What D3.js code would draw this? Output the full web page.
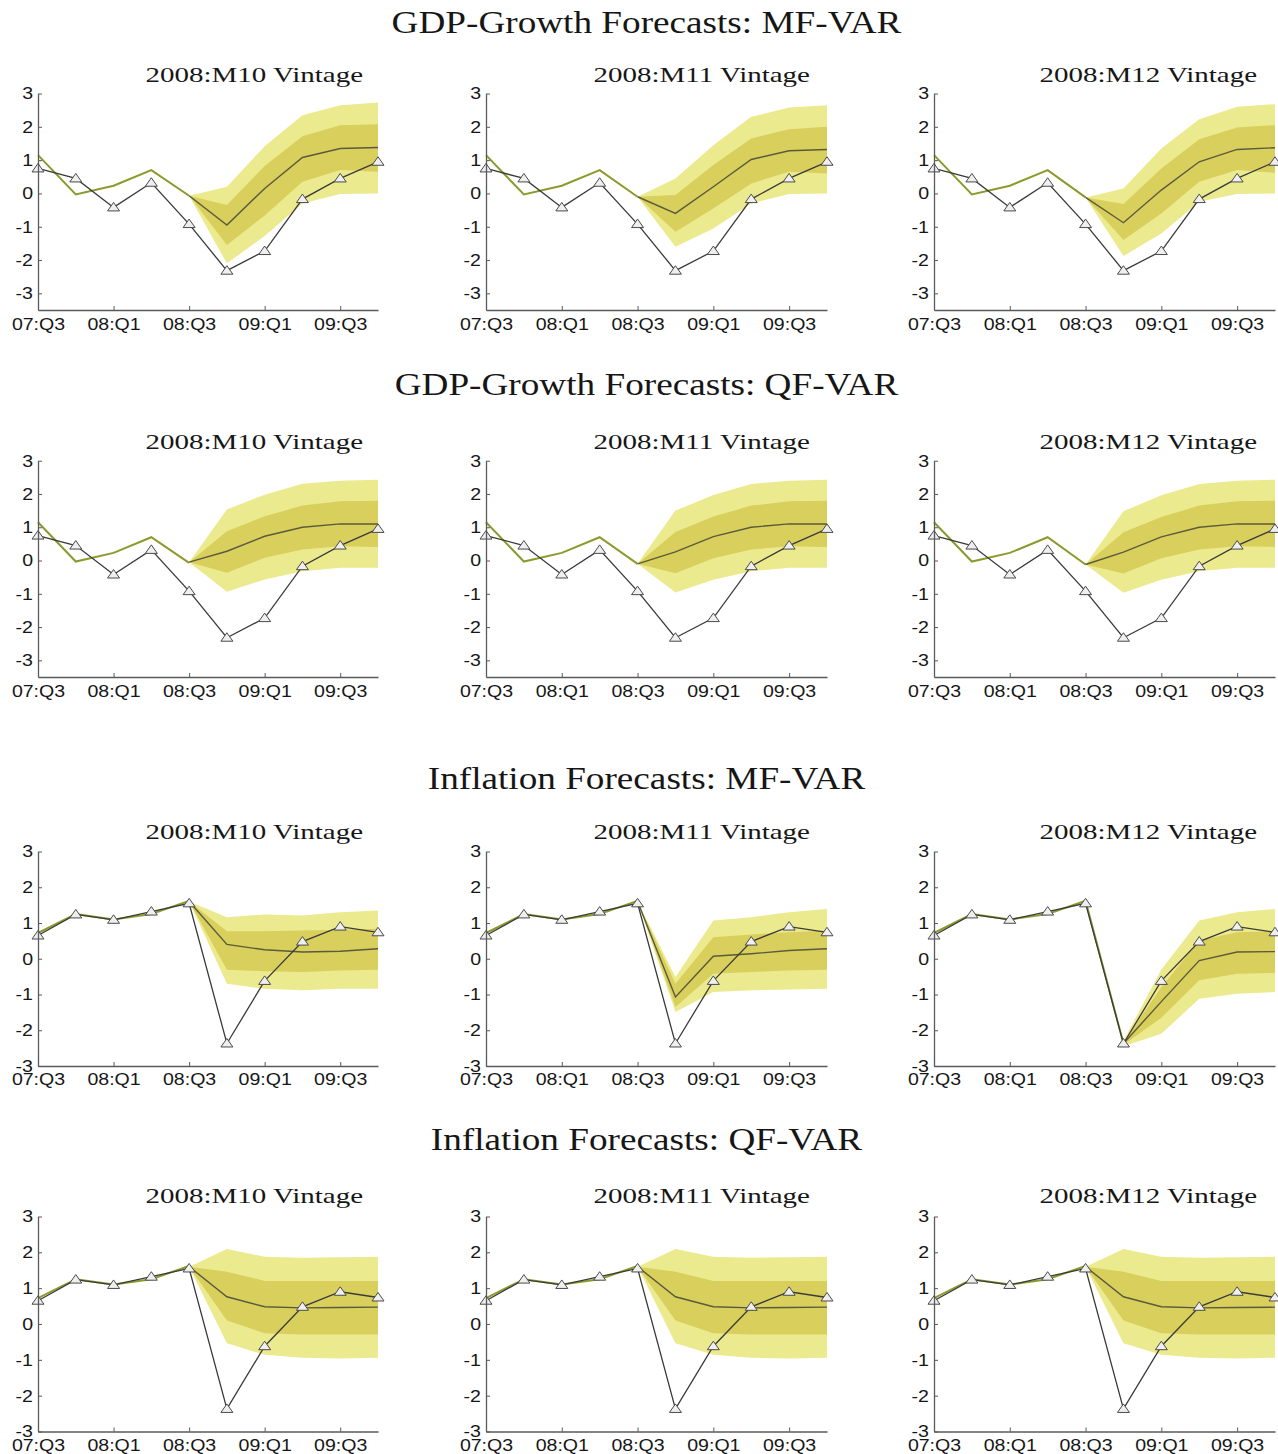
<!DOCTYPE html>
<html>
<head>
<meta charset="utf-8">
<script src="https://cdn.jsdelivr.net/npm/d3@7"></script>
<style>
  body { margin: 0; background: #fff; }
  svg { display: block; }
</style>
</head>
<body>
<svg id="chart" width="1278" height="1454"></svg>
<script>
// ---- Data ---------------------------------------------------------------
const quarters = ["07:Q3","07:Q4","08:Q1","08:Q2","08:Q3","08:Q4","09:Q1","09:Q2","09:Q3","09:Q4"];
const xTickIndex = [0, 2, 4, 6, 8];
const yTickValues = [-3, -2, -1, 0, 1, 2, 3];
const vintages = ["2008:M10 Vintage", "2008:M11 Vintage", "2008:M12 Vintage"];
const sectionTitles = [
  "GDP-Growth Forecasts: MF-VAR",
  "GDP-Growth Forecasts: QF-VAR",
  "Inflation Forecasts: MF-VAR",
  "Inflation Forecasts: QF-VAR"
];

// Realised outcomes (triangles)
const gdpActual  = [0.75, 0.45, -0.42, 0.32, -0.92, -2.32, -1.73, -0.17, 0.45, 0.95];
const inflActual = [0.65, 1.24, 1.09, 1.32, 1.55, -2.37, -0.62, 0.48, 0.90, 0.74];

// Real-time data available at each vintage (olive line)
const gdpRealTimeM10  = [1.15, -0.03, 0.23, 0.70, -0.07];
const gdpRealTimeM11  = [1.15, -0.03, 0.23, 0.70, -0.10];
const gdpRealTimeM12  = [1.15, -0.03, 0.23, 0.70, -0.12];
const inflRealTime    = [0.72, 1.25, 1.10, 1.25, 1.62];
const inflRealTimeM12 = [0.72, 1.25, 1.10, 1.25, 1.62, -2.37];

// Forecast fans, one row per horizon: [lo90, lo68, median, hi68, hi90]
const gdpMfM10 = [
  [-0.07, -0.07, -0.07, -0.07, -0.07],
  [-2.10, -1.55, -0.95, -0.35,  0.20],
  [-1.28, -0.66,  0.15,  0.82,  1.42],
  [-0.30,  0.35,  1.08,  1.72,  2.35],
  [-0.02,  0.70,  1.35,  2.05,  2.65],
  [ 0.00,  0.65,  1.38,  2.08,  2.73]
];
const gdpMfM11 = [
  [-0.10, -0.10, -0.10, -0.10, -0.10],
  [-1.60, -1.15, -0.60, -0.05,  0.45],
  [-1.05, -0.45,  0.20,  0.85,  1.45],
  [-0.30,  0.30,  1.02,  1.65,  2.30],
  [-0.02,  0.65,  1.28,  1.93,  2.58],
  [ 0.00,  0.60,  1.32,  2.00,  2.65]
];
const gdpMfM12 = [
  [-0.12, -0.12, -0.12, -0.12, -0.12],
  [-1.88, -1.40, -0.88, -0.32,  0.15],
  [-1.20, -0.60,  0.10,  0.75,  1.35],
  [-0.25,  0.35,  0.95,  1.63,  2.23],
  [-0.02,  0.70,  1.32,  1.98,  2.60],
  [ 0.00,  0.62,  1.37,  2.05,  2.68]
];
const gdpQfM10 = [
  [-0.05, -0.05, -0.05, -0.05, -0.05],
  [-0.94, -0.37,  0.28,  0.88,  1.53],
  [-0.57,  0.08,  0.73,  1.33,  1.98],
  [-0.32,  0.33,  1.00,  1.65,  2.31],
  [-0.22,  0.43,  1.10,  1.78,  2.40],
  [-0.22,  0.41,  1.10,  1.80,  2.43]
];
const gdpQfM11 = [
  [-0.10, -0.10, -0.10, -0.10, -0.10],
  [-0.96, -0.38,  0.26,  0.86,  1.50],
  [-0.58,  0.07,  0.72,  1.32,  1.97],
  [-0.32,  0.33,  1.00,  1.65,  2.30],
  [-0.22,  0.43,  1.10,  1.78,  2.40],
  [-0.22,  0.41,  1.10,  1.80,  2.43]
];
const gdpQfM12 = [
  [-0.12, -0.12, -0.12, -0.12, -0.12],
  [-0.97, -0.39,  0.25,  0.85,  1.48],
  [-0.58,  0.07,  0.71,  1.31,  1.96],
  [-0.32,  0.33,  1.00,  1.65,  2.30],
  [-0.22,  0.43,  1.10,  1.78,  2.40],
  [-0.22,  0.41,  1.10,  1.80,  2.43]
];
const inflMfM10 = [
  [ 1.60,  1.60,  1.60,  1.60,  1.60],
  [-0.70, -0.31,  0.40,  0.77,  1.16],
  [-0.84, -0.35,  0.25,  0.77,  1.24],
  [-0.88, -0.37,  0.19,  0.79,  1.21],
  [-0.84, -0.33,  0.21,  0.81,  1.30],
  [-0.84, -0.31,  0.28,  0.84,  1.35]
];
const inflMfM11 = [
  [ 1.60,  1.60,  1.60,  1.60,  1.60],
  [-1.49, -1.35, -1.07, -0.70, -0.51],
  [-0.93, -0.42,  0.07,  0.60,  1.07],
  [-0.88, -0.37,  0.14,  0.68,  1.16],
  [-0.86, -0.33,  0.23,  0.74,  1.30],
  [-0.84, -0.31,  0.28,  0.79,  1.39]
];
const inflMfM12 = [
  [-2.45, -2.41, -2.37, -2.33, -2.30],
  [-2.10, -1.65, -1.20, -0.80, -0.30],
  [-1.12, -0.60, -0.05,  0.51,  1.07],
  [-0.98, -0.42,  0.19,  0.74,  1.30],
  [-0.93, -0.40,  0.20,  0.77,  1.39]
];
const inflQf = [
  [ 1.60,  1.60,  1.60,  1.60,  1.60],
  [-0.54,  0.10,  0.76,  1.46,  2.09],
  [-0.86, -0.26,  0.48,  1.20,  1.88],
  [-0.94, -0.29,  0.45,  1.20,  1.85],
  [-0.96, -0.29,  0.46,  1.20,  1.86],
  [-0.94, -0.29,  0.47,  1.20,  1.88]
];

// Panel table: rows are sections, columns are vintages
const panels = [
  [ {actual: gdpActual, rt: gdpRealTimeM10, fan: gdpMfM10, start: 4},
    {actual: gdpActual, rt: gdpRealTimeM11, fan: gdpMfM11, start: 4},
    {actual: gdpActual, rt: gdpRealTimeM12, fan: gdpMfM12, start: 4} ],
  [ {actual: gdpActual, rt: gdpRealTimeM10, fan: gdpQfM10, start: 4},
    {actual: gdpActual, rt: gdpRealTimeM11, fan: gdpQfM11, start: 4},
    {actual: gdpActual, rt: gdpRealTimeM12, fan: gdpQfM12, start: 4} ],
  [ {actual: inflActual, rt: inflRealTime,    fan: inflMfM10, start: 4},
    {actual: inflActual, rt: inflRealTime,    fan: inflMfM11, start: 4},
    {actual: inflActual, rt: inflRealTimeM12, fan: inflMfM12, start: 5} ],
  [ {actual: inflActual, rt: inflRealTime, fan: inflQf, start: 4},
    {actual: inflActual, rt: inflRealTime, fan: inflQf, start: 4},
    {actual: inflActual, rt: inflRealTime, fan: inflQf, start: 4} ]
];

// ---- Layout -------------------------------------------------------------
const colLayout = [
  {x0: 38,  x1: 378,  subRight: 363},
  {x0: 486, x1: 827,  subRight: 810},
  {x0: 934, x1: 1275, subRight: 1257}
];
const rowLayout = [
  {domain: [-3.5, 3], yBot: 310,    yTop: 93.5,  titleY: 33,   subY: 82,   pad: 8},
  {domain: [-3.5, 3], yBot: 677,    yTop: 460.7, titleY: 395,  subY: 449,  pad: 8},
  {domain: [-3, 3],   yBot: 1066,   yTop: 851.5, titleY: 789,  subY: 839,  pad: 7},
  {domain: [-3, 3],   yBot: 1431.5, yTop: 1216.5,titleY: 1150, subY: 1203, pad: 7}
];

const colors = {
  outer: "#ecea8e",
  inner: "#d8cf5c",
  median: "#5b5a3c",
  realTime: "#8b9a2b",
  actual: "#3a3a3a",
  axis: "#5a5a5a",
  text: "#161616"
};

const svg = d3.select("#chart");

// Stretch a text node horizontally by a factor
function stretch(sel, k) {
  sel.each(function() {
    const w = this.getComputedTextLength();
    d3.select(this).attr("textLength", w * k).attr("lengthAdjust", "spacingAndGlyphs");
  });
}

const triangle = "M0,-5 L6,3.5 L-6,3.5 Z";

rowLayout.forEach((row, r) => {
  // Section title
  const t = svg.append("text")
    .attr("x", 646.5).attr("y", row.titleY)
    .attr("text-anchor", "middle")
    .attr("font-family", "'Liberation Serif', 'DejaVu Serif', serif")
    .attr("font-size", 31)
    .attr("fill", colors.text)
    .text(sectionTitles[r]);
  stretch(t, 1.2);

  colLayout.forEach((col, c) => {
    const p = panels[r][c];
    const x = d3.scaleLinear().domain([0, quarters.length - 1]).range([col.x0, col.x1]);
    const y = d3.scaleLinear().domain(row.domain).range([row.yBot, row.yTop]);
    const g = svg.append("g");

    // Vintage subtitle
    const st = g.append("text")
      .attr("x", col.subRight).attr("y", row.subY)
      .attr("text-anchor", "end")
      .attr("font-family", "'Liberation Serif', 'DejaVu Serif', serif")
      .attr("font-size", 21)
      .attr("fill", colors.text)
      .text(vintages[c]);
    stretch(st, 1.38);
    st.attr("text-anchor", "start").attr("x", col.subRight - +st.attr("textLength"));

    // Fan chart bands
    const fan = p.fan.map((v, i) => ({i: i + p.start, v}));
    g.append("path").datum(fan)
      .attr("fill", colors.outer)
      .attr("d", d3.area().x(d => x(d.i)).y0(d => y(d.v[0])).y1(d => y(d.v[4])));
    g.append("path").datum(fan)
      .attr("fill", colors.inner)
      .attr("d", d3.area().x(d => x(d.i)).y0(d => y(d.v[1])).y1(d => y(d.v[3])));

    // Real-time data line
    g.append("path").datum(p.rt)
      .attr("fill", "none")
      .attr("stroke", colors.realTime)
      .attr("stroke-width", 2)
      .attr("d", d3.line().x((d, i) => x(i)).y(d => y(d)));

    // Median forecast
    g.append("path").datum(fan)
      .attr("fill", "none")
      .attr("stroke", colors.median)
      .attr("stroke-width", 1.4)
      .attr("d", d3.line().x(d => x(d.i)).y(d => y(d.v[2])));

    // Realised outcomes
    g.append("path").datum(p.actual)
      .attr("fill", "none")
      .attr("stroke", colors.actual)
      .attr("stroke-width", 1.3)
      .attr("d", d3.line().x((d, i) => x(i)).y(d => y(d)));
    g.selectAll(".tri").data(p.actual).join("path")
      .attr("class", "tri")
      .attr("transform", (d, i) => `translate(${x(i)},${y(d)})`)
      .attr("d", triangle)
      .attr("fill", "#efefef")
      .attr("stroke", "#4a4a4a")
      .attr("stroke-width", 1);

    // Axes
    const yAxis = d3.axisLeft(y).tickValues(yTickValues).tickFormat(d => String(d))
      .tickSize(-4).tickSizeOuter(0).tickPadding(5);
    const ya = g.append("g").attr("transform", `translate(${col.x0},0)`).call(yAxis);
    const xAxis = d3.axisBottom(x).tickValues(xTickIndex).tickFormat(i => quarters[i])
      .tickSize(-4).tickSizeOuter(0).tickPadding(row.pad);
    const xa = g.append("g").attr("transform", `translate(0,${row.yBot})`).call(xAxis);

    [ya, xa].forEach(a => {
      a.select(".domain").attr("stroke", colors.axis).attr("stroke-width", 1.3);
      a.selectAll(".tick line").attr("stroke", colors.axis).attr("stroke-width", 1);
      a.selectAll(".tick text")
        .attr("font-family", "'Liberation Sans', Arial, sans-serif")
        .attr("font-size", 17)
        .attr("fill", colors.text);
    });
    stretch(ya.selectAll(".tick text"), 1.15);
    stretch(xa.selectAll(".tick text"), 1.15);
  });
});
</script>
</body>
</html>
